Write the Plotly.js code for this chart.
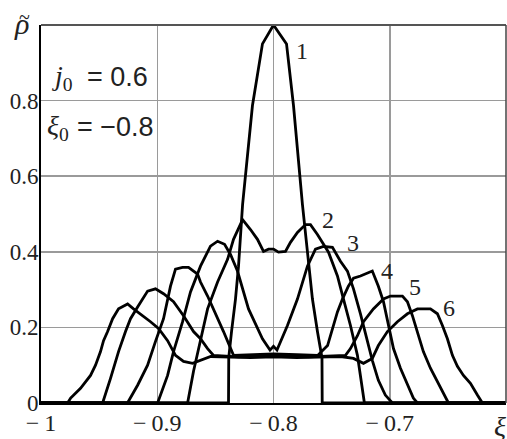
<!DOCTYPE html>
<html>
<head>
<meta charset="utf-8">
<script src="https://cdn.plot.ly/plotly-3.0.1.min.js"></script>
<style>
  html, body { margin: 0; padding: 0; background: #fff; }
  #chart { width: 507px; height: 439px; }
</style>
</head>
<body>
<div id="chart"></div>
<script>
// Density profiles rho~(xi) for successive moments, j0 = 0.6, xi0 = -0.8
const xi1  = [-1.0, -0.8387, -0.8385, -0.8378, -0.8361, -0.8327, -0.8301, -0.8266, -0.8181, -0.8095, -0.8000, -0.7888, -0.7828, -0.7751, -0.7699, -0.7665, -0.7622, -0.7596, -0.7583, -0.7581, -0.6];
const rho1 = [0, 0, 0.120, 0.136, 0.189, 0.275, 0.362, 0.525, 0.787, 0.950, 1.0, 0.950, 0.787, 0.525, 0.362, 0.275, 0.189, 0.136, 0.120, 0, 0];

const xi2  = [-1.0, -0.8739, -0.8688, -0.8628, -0.8567, -0.8481, -0.8395, -0.8344, -0.8266, -0.8198, -0.8138, -0.8086, -0.8043, -0.8000, -0.7957, -0.7897, -0.7854, -0.7794, -0.7725, -0.7682, -0.7622, -0.7527, -0.7450, -0.7398, -0.7338, -0.7278, -0.7252, -0.7226, -0.7218, -0.6];
const rho2 = [0, 0, 0.084, 0.170, 0.249, 0.320, 0.380, 0.433, 0.485, 0.459, 0.433, 0.401, 0.407, 0.407, 0.399, 0.401, 0.425, 0.451, 0.472, 0.472, 0.446, 0.399, 0.336, 0.275, 0.205, 0.126, 0.065, 0.013, 0, 0];

const xi3  = [-1.0, -0.8997, -0.8911, -0.8860, -0.8782, -0.8714, -0.8628, -0.8542, -0.8481, -0.8421, -0.8370, -0.8310, -0.8215, -0.8095, -0.8030, -0.8000, -0.7970, -0.7880, -0.7794, -0.7708, -0.7639, -0.7570, -0.7493, -0.7424, -0.7364, -0.7312, -0.7252, -0.7200, -0.7150, -0.7098, -0.7038, -0.6977, -0.6];
const rho3 = [0, 0, 0.073, 0.136, 0.215, 0.294, 0.362, 0.415, 0.428, 0.420, 0.393, 0.349, 0.249, 0.170, 0.140, 0.150, 0.140, 0.205, 0.275, 0.362, 0.407, 0.414, 0.412, 0.375, 0.349, 0.302, 0.236, 0.170, 0.113, 0.060, 0.021, 0, 0];

const xi4  = [-1.0, -0.9256, -0.9169, -0.9083, -0.9015, -0.8946, -0.8886, -0.8843, -0.8782, -0.8731, -0.8653, -0.8628, -0.8567, -0.8516, -0.8430, -0.8344, -0.8200, -0.8000, -0.7800, -0.7620, -0.7535, -0.7493, -0.7450, -0.7407, -0.7356, -0.7312, -0.7252, -0.7150, -0.7098, -0.7054, -0.7012, -0.6968, -0.6908, -0.6848, -0.6797, -0.6762, -0.6];
const rho4 = [0, 0, 0.047, 0.100, 0.163, 0.223, 0.309, 0.354, 0.359, 0.359, 0.341, 0.320, 0.283, 0.249, 0.189, 0.126, 0.128, 0.130, 0.128, 0.126, 0.152, 0.197, 0.241, 0.275, 0.309, 0.330, 0.336, 0.349, 0.309, 0.268, 0.205, 0.144, 0.092, 0.047, 0.013, 0, 0];

const xi5  = [-1.0, -0.9470, -0.9402, -0.9333, -0.9273, -0.9230, -0.9169, -0.9083, -0.9015, -0.8946, -0.8860, -0.8774, -0.8688, -0.8628, -0.8567, -0.8516, -0.8300, -0.8000, -0.7700, -0.7381, -0.7338, -0.7278, -0.7226, -0.7141, -0.7054, -0.6994, -0.6891, -0.6848, -0.6805, -0.6762, -0.6711, -0.6650, -0.6590, -0.6538, -0.6495, -0.6];
const rho5 = [0, 0, 0.065, 0.136, 0.189, 0.223, 0.254, 0.296, 0.302, 0.289, 0.268, 0.231, 0.189, 0.170, 0.144, 0.126, 0.122, 0.125, 0.122, 0.126, 0.144, 0.178, 0.215, 0.249, 0.275, 0.283, 0.283, 0.268, 0.231, 0.189, 0.136, 0.092, 0.058, 0.026, 0, 0];

const xi6  = [-1.0, -0.9771, -0.9745, -0.9660, -0.9574, -0.9531, -0.9488, -0.9462, -0.9427, -0.9384, -0.9333, -0.9255, -0.9204, -0.9144, -0.9058, -0.8989, -0.8911, -0.8843, -0.8774, -0.8696, -0.8628, -0.8540, -0.8200, -0.8000, -0.7800, -0.7424, -0.7312, -0.7226, -0.7150, -0.7098, -0.7020, -0.6934, -0.6848, -0.6762, -0.6650, -0.6590, -0.6547, -0.6504, -0.6461, -0.6418, -0.6366, -0.6306, -0.6246, -0.6203, -0.6];
const rho6 = [0, 0, 0.013, 0.039, 0.073, 0.100, 0.136, 0.165, 0.189, 0.223, 0.249, 0.262, 0.249, 0.236, 0.215, 0.197, 0.165, 0.126, 0.110, 0.105, 0.113, 0.123, 0.120, 0.122, 0.120, 0.123, 0.118, 0.105, 0.118, 0.152, 0.189, 0.215, 0.236, 0.249, 0.249, 0.236, 0.205, 0.170, 0.126, 0.097, 0.073, 0.052, 0.021, 0, 0];

const xTickVals = [-1, -0.9, -0.8, -0.7];
const xTickText = ['\u2212\u20091', '\u2212\u20090.9', '\u2212\u20090.8', '\u2212\u20090.7'];
const yTickVals = [0, 0.2, 0.4, 0.6, 0.8];
const yTickText = ['0', '0.2', '0.4', '0.6', '0.8'];

const curveNames = ['1', '2', '3', '4', '5', '6'];
const curveX = [xi1, xi2, xi3, xi4, xi5, xi6];
const curveY = [rho1, rho2, rho3, rho4, rho5, rho6];

const serif = 'Liberation Serif';
const sans = 'Liberation Sans';
const ink = '#222';

const traces = curveX.map((xs, i) => ({
  type: 'scatter',
  mode: 'lines',
  name: curveNames[i],
  x: xs,
  y: curveY[i],
  line: { color: '#000', width: 2.8, shape: 'linear' },
  hoverinfo: 'skip'
}));

// curve number labels
const labelPos = [
  { x: -0.7755, y: 0.93 },
  { x: -0.7530, y: 0.485 },
  { x: -0.7312, y: 0.422 },
  { x: -0.7020, y: 0.349 },
  { x: -0.6780, y: 0.306 },
  { x: -0.6490, y: 0.252 }
];
const annotations = curveNames.map((t, i) => ({
  x: labelPos[i].x, y: labelPos[i].y, xref: 'x', yref: 'y',
  text: t, showarrow: false, xanchor: 'center', yanchor: 'middle',
  font: { family: serif, size: 24, color: ink }
}));

annotations.push(
  // axis symbols: rho with a tilde above, xi at the end of the abscissa
  { xref: 'paper', yref: 'paper', x: -0.041, y: 1.003, text: '<i>\u03C1</i>', showarrow: false,
    xanchor: 'center', yanchor: 'middle', font: { family: serif, size: 30, color: ink } },
  { xref: 'paper', yref: 'paper', x: -0.036, y: 1.022, text: '~', showarrow: false,
    xanchor: 'center', yanchor: 'middle', font: { family: serif, size: 20, color: ink } },
  { xref: 'paper', yref: 'paper', x: 0.988, y: -0.062, text: '<i>\u03BE</i>', showarrow: false,
    xanchor: 'center', yanchor: 'middle', font: { family: serif, size: 28, color: ink } },
  // parameters
  { xref: 'paper', yref: 'paper', x: 0.019, y: 0.860, showarrow: false, xanchor: 'left', yanchor: 'middle',
    text: '<i>j</i><sub>0</sub>', font: { family: serif, size: 28, color: ink } },
  { xref: 'paper', yref: 'paper', x: 0.094, y: 0.862, showarrow: false, xanchor: 'left', yanchor: 'middle',
    text: '= 0.6', font: { family: sans, size: 27, color: ink } },
  { xref: 'paper', yref: 'paper', x: 0.008, y: 0.728, showarrow: false, xanchor: 'left', yanchor: 'middle',
    text: '<i>\u03BE</i><sub>0</sub>', font: { family: serif, size: 28, color: ink } },
  { xref: 'paper', yref: 'paper', x: 0.073, y: 0.730, showarrow: false, xanchor: 'left', yanchor: 'middle',
    text: '= \u22120.8', font: { family: sans, size: 27, color: ink } }
);

const layout = {
  width: 507, height: 439,
  margin: { l: 41, r: 1, t: 25, b: 36 },
  paper_bgcolor: '#fff', plot_bgcolor: '#fff',
  showlegend: false,
  font: { family: serif, size: 24, color: ink },
  xaxis: {
    range: [-1, -0.6], tickvals: xTickVals, ticktext: xTickText,
    showgrid: true, gridcolor: '#9a9a9a', gridwidth: 1.5,
    zeroline: false, showline: true, linecolor: '#000', linewidth: 2,
    ticks: '', ticklabelstandoff: -3,
    tickfont: { family: serif, size: 24, color: ink }, fixedrange: true
  },
  yaxis: {
    range: [0, 1.0], tickvals: yTickVals, ticktext: yTickText,
    showgrid: true, gridcolor: '#9a9a9a', gridwidth: 1.5,
    zeroline: false, showline: true, linecolor: '#000', linewidth: 2,
    ticks: '', ticklabelstandoff: -4,
    tickfont: { family: serif, size: 23, color: ink }, fixedrange: true
  },
  shapes: [
    { type: 'line', xref: 'paper', yref: 'paper', x0: 0, x1: 1, y0: 1, y1: 1, line: { color: '#555', width: 2 } },
    { type: 'line', xref: 'paper', yref: 'paper', x0: 1, x1: 1, y0: 0, y1: 1, line: { color: '#444', width: 1.5 } }
  ],
  annotations: annotations
};

Plotly.newPlot('chart', traces, layout, { displayModeBar: false, staticPlot: true });
</script>
</body>
</html>
